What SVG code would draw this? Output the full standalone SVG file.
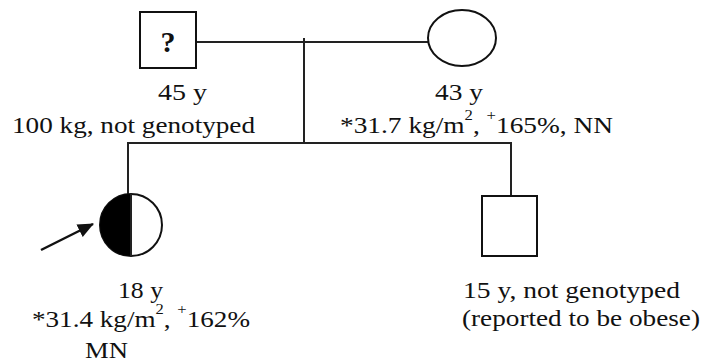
<svg xmlns="http://www.w3.org/2000/svg" width="702" height="362" viewBox="0 0 702 362">
<style>
.t{font-family:"Liberation Serif","Times New Roman",serif;font-size:23px;fill:#111}
.s{font-size:14px}
.q{font-size:30px;font-weight:bold}
.sh{fill:#fff;stroke:#111;stroke-width:2}
.ln{fill:none;stroke:#222;stroke-width:2}
</style>
<defs>
<marker id="ahb" markerWidth="16" markerHeight="14" refX="15" refY="7" orient="auto" markerUnits="userSpaceOnUse" viewBox="0 0 16 14">
<path d="M0,0 L16,7 L0,14 Z" fill="#111"/>
</marker>
</defs>
<g id="connectors">
<line class="ln" x1="197" y1="42" x2="428" y2="42"/>
<line class="ln" x1="304" y1="38" x2="304" y2="143"/>
<line class="ln" x1="127" y1="143" x2="512" y2="143"/>
<line class="ln" x1="128" y1="143" x2="128" y2="195"/>
<line class="ln" x1="511" y1="143" x2="511" y2="196"/>
<line x1="41" y1="250" x2="93" y2="224" stroke="#111" stroke-width="2.5" marker-end="url(#ahb)"/>
</g>
<g id="father">
<rect class="sh" x="140" y="12" width="56" height="56"/>
<text class="t q" x="168" y="52" text-anchor="middle">?</text>
<text class="t" x="158" y="100" textLength="49" lengthAdjust="spacingAndGlyphs">45 y</text>
<text class="t" x="12" y="133" textLength="243" lengthAdjust="spacingAndGlyphs">100 kg, not genotyped</text>
</g>
<g id="mother">
<ellipse class="sh" cx="462" cy="38" rx="34" ry="28"/>
<text class="t" x="435" y="100" textLength="48" lengthAdjust="spacingAndGlyphs">43 y</text>
<text class="t" x="340" y="133" textLength="273" lengthAdjust="spacingAndGlyphs">*31.7 kg/m<tspan class="s" dy="-13">2</tspan><tspan dy="13">, </tspan><tspan class="s" dy="-13">+</tspan><tspan dy="13">165%, NN</tspan></text>
</g>
<g id="proband">
<circle class="sh" cx="131" cy="225" r="31"/>
<path d="M131,194 A31,31 0 0 0 131,256 Z" fill="#000"/>
<line class="ln" x1="131" y1="194" x2="131" y2="256" stroke-width="1.5"/>
<text class="t" x="118" y="298" textLength="45" lengthAdjust="spacingAndGlyphs">18 y</text>
<text class="t" x="32" y="327" textLength="218" lengthAdjust="spacingAndGlyphs">*31.4 kg/m<tspan class="s" dy="-13">2</tspan><tspan dy="13">, </tspan><tspan class="s" dy="-13">+</tspan><tspan dy="13">162%</tspan></text>
<text class="t" x="85" y="358" textLength="43" lengthAdjust="spacingAndGlyphs">MN</text>
</g>
<g id="brother">
<rect class="sh" x="482" y="196" width="55" height="60"/>
<text class="t" x="463" y="298" textLength="217" lengthAdjust="spacingAndGlyphs">15 y, not genotyped</text>
<text class="t" x="462" y="326" textLength="238" lengthAdjust="spacingAndGlyphs">(reported to be obese)</text>
</g>
</svg>
